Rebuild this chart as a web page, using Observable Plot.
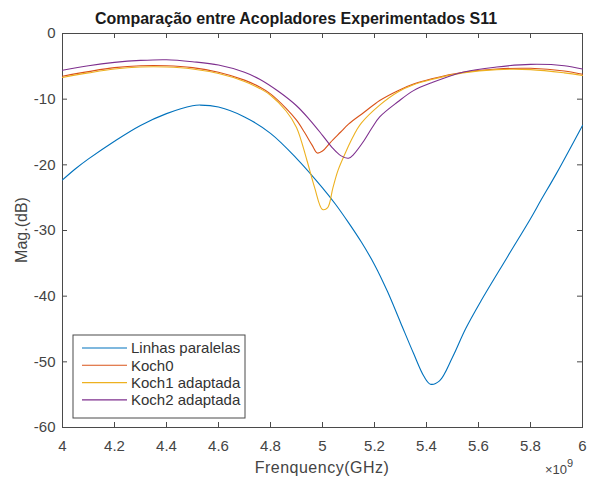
<!DOCTYPE html>
<html>
<head>
<meta charset="utf-8">
<script src="https://cdn.jsdelivr.net/npm/d3@7"></script>
<script src="https://cdn.jsdelivr.net/npm/@observablehq/plot@0.6"></script>
<style>
  html, body { margin: 0; padding: 0; background: white; }
  #chart { width: 590px; height: 477px; }
</style>
</head>
<body>
<div id="chart"></div>
<script>
// ---- Data (frequency in GHz, magnitude in dB) ----
const seriesNames = ["Linhas paralelas", "Koch0", "Koch1 adaptada", "Koch2 adaptada"];
const seriesColors = ["#0072BD", "#D95319", "#EDB120", "#7E2F8E"];

const freqLinhas = [4.00, 4.05, 4.10, 4.20, 4.30, 4.40, 4.50, 4.53, 4.60, 4.70, 4.80, 4.90, 5.00, 5.05, 5.10, 5.15, 5.20, 5.25, 5.30, 5.35, 5.39, 5.415, 5.45, 5.50, 5.55, 5.61, 5.71, 5.80, 5.84, 5.90, 6.00];
const magLinhas  = [-22.3, -20.6, -19.1, -16.4, -14.0, -12.2, -11.0, -10.9, -11.2, -12.7, -15.2, -19.0, -23.5, -26.0, -28.8, -31.8, -35.2, -39.3, -44.0, -48.7, -52.2, -53.4, -52.9, -49.3, -45.0, -40.7, -34.1, -28.2, -25.4, -21.3, -14.0];

const freqKoch0 = [4.00, 4.10, 4.20, 4.30, 4.40, 4.50, 4.60, 4.70, 4.76, 4.80, 4.86, 4.90, 4.93, 4.96, 4.98, 5.00, 5.03, 5.07, 5.10, 5.16, 5.22, 5.29, 5.35, 5.42, 5.54, 5.67, 5.80, 5.93, 6.00];
const magKoch0  = [-6.5, -5.8, -5.2, -4.9, -4.9, -5.2, -5.9, -7.1, -8.2, -9.2, -11.4, -13.2, -15.0, -17.0, -18.2, -17.9, -16.6, -15.0, -13.8, -12.0, -10.2, -8.7, -7.7, -6.9, -5.9, -5.4, -5.3, -5.7, -6.2];

const freqKoch1 = [4.00, 4.10, 4.20, 4.30, 4.40, 4.50, 4.60, 4.70, 4.76, 4.80, 4.86, 4.90, 4.94, 4.97, 5.00, 5.02, 5.04, 5.06, 5.09, 5.11, 5.13, 5.15, 5.22, 5.29, 5.35, 5.42, 5.54, 5.67, 5.80, 5.93, 6.00];
const magKoch1  = [-6.7, -6.0, -5.4, -5.1, -5.1, -5.4, -6.1, -7.3, -8.4, -9.4, -11.8, -14.3, -19.3, -23.5, -26.8, -26.5, -23.5, -20.8, -18.0, -16.3, -14.8, -13.6, -10.9, -8.9, -7.8, -7.0, -6.0, -5.5, -5.5, -6.0, -6.4];

const freqKoch2 = [4.00, 4.10, 4.20, 4.30, 4.40, 4.50, 4.60, 4.70, 4.76, 4.83, 4.90, 4.95, 5.00, 5.04, 5.07, 5.10, 5.12, 5.16, 5.19, 5.22, 5.29, 5.35, 5.42, 5.54, 5.67, 5.80, 5.93, 6.00];
const magKoch2  = [-5.6, -4.9, -4.4, -4.1, -4.0, -4.3, -4.8, -5.9, -7.0, -8.8, -11.0, -13.1, -15.5, -17.5, -18.6, -19.0, -18.4, -16.3, -14.4, -12.7, -10.4, -8.7, -7.5, -5.9, -5.1, -4.7, -4.9, -5.4];

const xTicks = [4, 4.2, 4.4, 4.6, 4.8, 5, 5.2, 5.4, 5.6, 5.8, 6];
const yTicks = [0, -10, -20, -30, -40, -50, -60];
const titleText = "Comparação entre Acopladores Experimentados S11";
const xLabel = "Frenquency(GHz)";
const yLabel = "Mag.(dB)";

// ---- Build table ----
const seriesData = [
  [freqLinhas, magLinhas],
  [freqKoch0, magKoch0],
  [freqKoch1, magKoch1],
  [freqKoch2, magKoch2]
];
const rows = [];
seriesData.forEach(([fs, ms], i) => {
  fs.forEach((f, j) => rows.push({series: seriesNames[i], f, m: ms[j]}));
});

const W = 590, H = 477;
const mT = 33, mB = 50, mL = 62, mR = 8;
const innerH = H - mT - mB, innerW = W - mL - mR;
const tickLen = 5;
const axisColor = "#4a4a4a";
const fmt = d => String(d);

const chart = Plot.plot({
  width: W, height: H,
  marginTop: mT, marginBottom: mB, marginLeft: mL, marginRight: mR,
  style: {fontFamily: "'Liberation Sans', Arial, sans-serif", fontSize: "15px", color: "#444", background: "white"},
  x: {domain: [4, 6]},
  y: {domain: [-60, 0]},
  color: {domain: seriesNames, range: seriesColors},
  marks: [
    Plot.frame({stroke: axisColor, strokeWidth: 1}),
    Plot.tickX(xTicks, {x: d => d, insetTop: innerH - tickLen, stroke: axisColor}),
    Plot.tickX(xTicks, {x: d => d, insetBottom: innerH - tickLen, stroke: axisColor}),
    Plot.tickY(yTicks, {y: d => d, insetRight: innerW - tickLen, stroke: axisColor}),
    Plot.tickY(yTicks, {y: d => d, insetLeft: innerW - tickLen, stroke: axisColor}),
    Plot.axisX(xTicks, {tickSize: 0, tickPadding: 13, tickFormat: fmt, label: null}),
    Plot.axisY(yTicks, {tickSize: 0, tickPadding: 7, tickFormat: fmt, label: null}),
    Plot.line(rows, {x: "f", y: "m", stroke: "series", z: "series", strokeWidth: 1.1, curve: "catmull-rom"})
  ]
});

document.getElementById("chart").appendChild(chart);

const svg = d3.select(chart);
const font = "'Liberation Sans', Arial, sans-serif";

// Title
svg.append("text")
  .attr("x", 296).attr("y", 24)
  .attr("text-anchor", "middle")
  .attr("font-family", font).attr("font-size", 16).attr("font-weight", "bold")
  .attr("fill", "#1a1a1a")
  .text(titleText);

// X label
svg.append("text")
  .attr("x", mL + innerW / 2).attr("y", 473)
  .attr("text-anchor", "middle")
  .attr("font-family", font).attr("font-size", 16)
  .attr("letter-spacing", "0.5px")
  .attr("fill", "#444")
  .text(xLabel);

// Y label
svg.append("text")
  .attr("transform", `translate(27, ${mT + innerH / 2}) rotate(-90)`)
  .attr("text-anchor", "middle")
  .attr("font-family", font).attr("font-size", 16)
  .attr("fill", "#444")
  .text(yLabel);

// x10^9 exponent
const ex = svg.append("text")
  .attr("x", 545).attr("y", 474)
  .attr("text-anchor", "start")
  .attr("font-family", font).attr("font-size", 13)
  .attr("fill", "#444");
ex.append("tspan").text("×10");
ex.append("tspan").attr("dy", -7).attr("font-size", 11).text("9");

// Legend
const lg = svg.append("g");
const lx = 73, ly = 335, lw = 172, lh = 83;
lg.append("rect").attr("x", lx).attr("y", ly).attr("width", lw).attr("height", lh)
  .attr("fill", "white").attr("stroke", axisColor).attr("stroke-width", 1);
seriesNames.forEach((name, i) => {
  const yy = ly + 13 + i * 17.3;
  lg.append("line").attr("x1", lx + 9).attr("x2", lx + 54).attr("y1", yy).attr("y2", yy)
    .attr("stroke", seriesColors[i]).attr("stroke-width", 1.1);
  lg.append("text").attr("x", lx + 58).attr("y", yy).attr("dy", "0.35em")
    .attr("text-anchor", "start")
    .attr("font-family", font).attr("font-size", 15).attr("fill", "#333")
    .text(name);
});
</script>
</body>
</html>
